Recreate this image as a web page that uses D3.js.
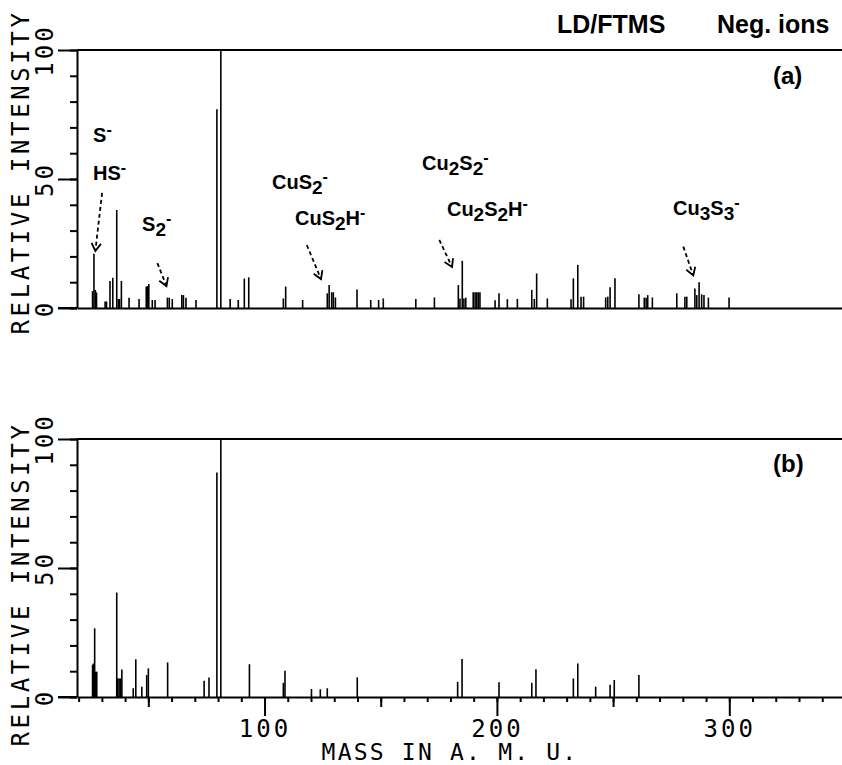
<!DOCTYPE html>
<html>
<head>
<meta charset="utf-8">
<script src="https://cdn.jsdelivr.net/npm/d3@7"></script>
<style>
  html, body { margin: 0; padding: 0; background: #fff; }
  svg { display: block; }
</style>
</head>
<body>
<script>
// LD/FTMS negative-ion spectra: m/z (amu) and relative intensity (%)
const massA = [26.0, 26.6, 27.2, 27.7, 31.4, 32.0, 33.5, 34.7, 36.4, 37.1, 37.6, 38.4, 41.7, 46.0,
  49.1, 49.7, 50.2, 51.7, 52.9, 58.2, 59.0, 60.3, 64.4, 65.1, 66.2, 70.5, 79.5, 81.2, 85.2, 88.7,
  91.3, 93.2, 108.1, 109.1, 116.4, 127.0, 127.8, 128.9, 129.6, 130.5, 139.8, 145.7, 149.1, 151.1,
  165.1, 173.1, 183.4, 184.1, 185.1, 185.8, 186.6, 189.8, 190.6, 191.3, 192.0, 192.7, 199.2, 200.9,
  204.5, 208.8, 215.0, 216.1, 217.1, 221.7, 231.9, 232.9, 234.8, 236.2, 237.3, 246.8, 247.7, 248.7,
  250.8, 261.1, 263.4, 264.2, 264.9, 266.9, 277.4, 280.9, 281.7, 285.2, 286.0, 287.0, 288.1, 289.1,
  291.0, 299.9];
const intA = [6.5, 21, 7, 6, 2.5, 2.5, 10.5, 11.7, 38, 3.5, 3.5, 10.5, 4, 3.5,
  8.3, 8.5, 9.3, 3.1, 3.1, 4, 4, 3.5, 5, 5, 4, 3.1, 77, 100, 3.5, 3.1,
  11.4, 11.9, 3.7, 8.3, 3.1, 5.7, 8.9, 6.1, 6.1, 4.1, 7.2, 3.1, 3.1, 3.7,
  3.5, 4.1, 8.9, 3.7, 18.3, 3.7, 4, 6.1, 6.1, 6.1, 6.1, 6.1, 3, 5.7,
  3.4, 3.5, 7, 3.5, 13.4, 3.7, 3.4, 11.5, 16.7, 4.4, 4.4, 4.1, 4.4, 8,
  11.5, 5.3, 4, 4, 5, 4.1, 5.7, 4.4, 4.4, 7.6, 5, 10, 5.3, 5,
  4, 4.1];

const massB = [26.0, 26.4, 26.9, 27.4, 27.8, 36.4, 36.8, 37.4, 38.0, 38.6, 43.5, 44.6, 47.2, 49.3,
  50.0, 58.3, 74.0, 76.1, 79.5, 81.2, 93.5, 108.1, 108.8, 120.2, 124.0, 127.0, 139.9, 183.1, 185.0,
  200.9, 215.0, 216.8, 232.9, 234.8, 242.5, 248.7, 250.5, 261.1];
const intB = [12.5, 13, 26.6, 9.8, 9.8, 40.5, 7.2, 7.2, 7.2, 10.7, 3.4, 14.6, 4, 8.5,
  11.1, 13.4, 6.3, 7.6, 87, 100, 12.7, 5.5, 10.2, 3.1, 3, 3.4, 7.6, 5.9, 14.7,
  5.7, 5.5, 10.8, 7.2, 13, 4, 4.7, 6.6, 8.5];

// axis ticks
const yTickLabels = [0, 50, 100];
const yMinorTicks = d3.range(0, 101, 10);
const xTickLabels = [100, 200, 300];
const xMidTicks = [50, 150, 250];
const xMinorTicks = d3.range(20, 341, 10);

// ion assignments in panel (a): "_" subscript, "^" superscript
const ionNames = ["S^-", "HS^-", "S_2^-", "CuS_2^-", "CuS_2H^-", "Cu_2S_2^-", "Cu_2S_2H^-", "Cu_3S_3^-"];
const ionMass = [26.2, 26.2, 47.3, 103.2, 113.1, 167.8, 178.5, 275.8];
const ionInt = [64.3, 49.6, 29.8, 46.1, 32.2, 53.5, 35.7, 36.0];

// dashed pointers: tail and tip, in m/z and intensity
const arrowTailMass = [30.1, 53.9, 118.2, 175.2, 280.2];
const arrowTailInt = [44.6, 17.4, 24.4, 26.4, 23.8];
const arrowTipMass = [27.2, 57.8, 124.3, 180.7, 284.5];
const arrowTipInt = [22.1, 8.5, 11.2, 15.9, 12.6];

const W = 842, H = 765;
const svg = d3.select("body").append("svg").attr("width", W).attr("height", H);
svg.append("rect").attr("width", W).attr("height", H).attr("fill", "#fff");

const x = d3.scaleLinear().domain([19.3, 348.5]).range([77, 842]);
const yA = d3.scaleLinear().domain([0, 100]).range([308, 50]);
const yB = d3.scaleLinear().domain([0, 100]).range([697, 439]);

const MONO = "'DejaVu Sans Mono', 'Liberation Mono', monospace";
const SANS = "'Liberation Sans', Arial, Helvetica, sans-serif";

function styleAxis(g) {
  g.attr("font-family", null).attr("font-size", null);
  g.selectAll("path, line").attr("stroke", "#000").attr("stroke-width", 2);
}

function drawPanel(yScale, mass, inten, tag, tagY, titleY, withXAxis) {
  const g = svg.append("g");

  // frame top rule at 100 %
  g.append("line")
    .attr("x1", x.range()[0]).attr("x2", x.range()[1])
    .attr("y1", yScale(100)).attr("y2", yScale(100))
    .attr("stroke", "#000").attr("stroke-width", 2);

  // y axis: minor and major ticks
  g.append("g").attr("transform", `translate(${x.range()[0]},0)`)
    .call(d3.axisLeft(yScale).tickValues(yMinorTicks).tickSize(7).tickSizeOuter(0).tickFormat(""))
    .call(styleAxis);
  const yMaj = g.append("g").attr("transform", `translate(${x.range()[0]},0)`)
    .call(d3.axisLeft(yScale).tickValues(yTickLabels).tickSize(19).tickSizeOuter(0).tickFormat(d3.format("d")))
    .call(styleAxis);
  yMaj.select(".domain").remove();
  yMaj.selectAll(".tick text")
    .attr("x", null).attr("dy", null)
    .attr("transform", "translate(-24,0) rotate(-90)")
    .attr("text-anchor", "middle")
    .attr("fill", "#000")
    .style("font-family", MONO).style("font-size", "24px").style("letter-spacing", "3px");

  // y title
  g.append("text")
    .attr("transform", `translate(29,${titleY}) rotate(-90)`)
    .attr("text-anchor", "middle")
    .style("font-family", MONO).style("font-size", "24px").style("letter-spacing", "3.6px")
    .text("RELATIVE INTENSITY");

  // x axis line (with ticks only on the lower panel)
  const xg = g.append("g").attr("transform", `translate(0,${yScale(0)})`);
  if (withXAxis) {
    xg.call(d3.axisBottom(x).tickValues(xMinorTicks).tickSize(5).tickSizeOuter(0).tickFormat(""))
      .call(styleAxis);
    const mid = g.append("g").attr("transform", `translate(0,${yScale(0)})`)
      .call(d3.axisBottom(x).tickValues(xMidTicks).tickSize(10).tickFormat(""))
      .call(styleAxis);
    mid.select(".domain").remove();
    const maj = g.append("g").attr("transform", `translate(0,${yScale(0)})`)
      .call(d3.axisBottom(x).tickValues(xTickLabels).tickSize(19).tickPadding(4).tickFormat(d3.format("d")))
      .call(styleAxis);
    maj.select(".domain").remove();
    maj.selectAll(".tick text")
      .attr("fill", "#000")
      .style("font-family", MONO).style("font-size", "24px").style("letter-spacing", "3px");
  } else {
    xg.call(d3.axisBottom(x).tickValues([]).tickSizeOuter(0)).call(styleAxis);
  }
  // zero rule continues under the major tick at 0
  g.append("line")
    .attr("x1", x.range()[0] - 19).attr("x2", x.range()[0])
    .attr("y1", yScale(0)).attr("y2", yScale(0))
    .attr("stroke", "#000").attr("stroke-width", 2);

  // spectral lines
  const peaks = d3.zip(mass, inten);
  g.append("g").selectAll("line").data(peaks).join("line")
    .attr("x1", d => x(d[0])).attr("x2", d => x(d[0]))
    .attr("y1", yScale(0)).attr("y2", d => yScale(d[1]))
    .attr("stroke", "#000").attr("stroke-width", 1.6);

  // panel tag
  g.append("text")
    .attr("x", 773).attr("y", tagY)
    .style("font-family", SANS).style("font-weight", "bold").style("font-size", "24px")
    .text(tag);
  return g;
}

drawPanel(yA, massA, intA, "(a)", 84, 172, false);
drawPanel(yB, massB, intB, "(b)", 472, 584, true);

// x title
svg.append("text")
  .attr("x", 450).attr("y", 760)
  .attr("text-anchor", "middle")
  .style("font-family", MONO).style("font-size", "23px").style("letter-spacing", "2.2px")
  .text("MASS IN A. M. U.");

// header
svg.append("text").attr("x", 557).attr("y", 33)
  .style("font-family", SANS).style("font-weight", "bold").style("font-size", "25px")
  .text("LD/FTMS");
svg.append("text").attr("x", 717).attr("y", 33)
  .style("font-family", SANS).style("font-weight", "bold").style("font-size", "25px")
  .text("Neg. ions");

// ion labels with sub/superscripts
function richLabel(parent, str, px, py) {
  const t = parent.append("text").attr("x", px).attr("y", py)
    .style("font-family", SANS).style("font-weight", "bold").style("font-size", "20px");
  let shift = 0;
  for (let i = 0; i < str.length; i++) {
    let ch = str[i], target = 0, size = 20;
    if (ch === "_") { ch = str[++i]; target = 5; size = 19; }
    else if (ch === "^") { ch = str[++i]; target = -7; size = 16; }
    t.append("tspan").attr("dy", target - shift).style("font-size", size + "px").text(ch);
    shift = target;
  }
}
const labelG = svg.append("g");
ionNames.forEach((n, i) => richLabel(labelG, n, x(ionMass[i]), yA(ionInt[i])));

// dashed pointers with open heads
const arrowG = svg.append("g").attr("stroke", "#000").attr("fill", "none");
arrowTipMass.forEach((_, i) => {
  const x0 = x(arrowTailMass[i]), y0 = yA(arrowTailInt[i]);
  const x1 = x(arrowTipMass[i]), y1 = yA(arrowTipInt[i]);
  arrowG.append("line").attr("x1", x0).attr("y1", y0).attr("x2", x1).attr("y2", y1)
    .attr("stroke-width", 1.8).attr("stroke-dasharray", "4,3");
  const ang = Math.atan2(y1 - y0, x1 - x0), L = 9, a = 0.55;
  const p = d3.path();
  p.moveTo(x1 - L * Math.cos(ang - a), y1 - L * Math.sin(ang - a));
  p.lineTo(x1, y1);
  p.lineTo(x1 - L * Math.cos(ang + a), y1 - L * Math.sin(ang + a));
  arrowG.append("path").attr("d", p.toString()).attr("stroke-width", 1.8);
});
</script>
</body>
</html>
